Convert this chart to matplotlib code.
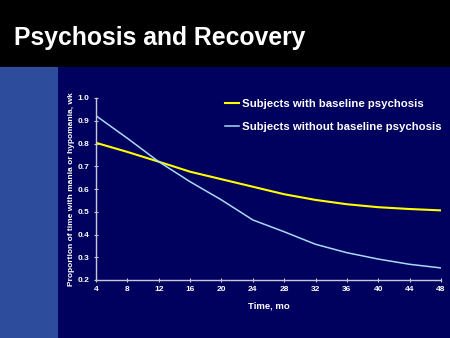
import matplotlib
matplotlib.use("Agg")
import matplotlib.pyplot as plt
from matplotlib.patches import Rectangle

months = [4, 8, 12, 16, 20, 24, 28, 32, 36, 40, 44, 48]
with_psychosis = [0.803, 0.763, 0.72, 0.676, 0.643, 0.61, 0.577, 0.552, 0.533, 0.52, 0.512, 0.506]
without_psychosis = [0.922, 0.823, 0.72, 0.632, 0.552, 0.464, 0.412, 0.357, 0.32, 0.292, 0.269, 0.253]
x_ticks = [4, 8, 12, 16, 20, 24, 28, 32, 36, 40, 44, 48]
y_ticks = [0.2, 0.3, 0.4, 0.5, 0.6, 0.7, 0.8, 0.9, 1.0]

plt.rcParams['font.family'] = ['Liberation Sans', 'DejaVu Sans']
NAVY = '#00005e'
fig = plt.figure(figsize=(4.5, 3.38), dpi=100, facecolor=NAVY)

# header and texture strip
fig.patches.append(Rectangle((0, 1 - 67/338), 1, 67/338, transform=fig.transFigure,
                             facecolor='black', edgecolor='none', zorder=0))
fig.patches.append(Rectangle((0, 0), 58/450, 1 - 67/338, transform=fig.transFigure,
                             facecolor='#2e4c9c', edgecolor='none', zorder=0))
fig.text(14/450, 1 - 38/338, 'Psychosis and Recovery', color='white', fontsize=17.8,
         fontweight='bold', va='center', ha='left')

ax = fig.add_axes([96/450, 1 - 280/338, (441 - 96)/450, (280 - 98)/338])
ax.set_facecolor(NAVY)
ax.plot(months, with_psychosis, color='#ffff00', lw=1.5, label='Subjects with baseline psychosis')
ax.plot(months, without_psychosis, color='#a8daf4', lw=1.1, label='Subjects without baseline psychosis')
ax.set_xlim(4, 48)
ax.set_ylim(0.2, 1.0)
ax.set_xticks(x_ticks)
ax.set_yticks(y_ticks)
ax.set_xticklabels([str(t) for t in x_ticks])
ax.set_yticklabels(['%.1f' % t for t in y_ticks])
for s in ['top', 'right']:
    ax.spines[s].set_visible(False)
for s in ['left', 'bottom']:
    ax.spines[s].set_color('#c8c8d8')
    ax.spines[s].set_linewidth(1.0)
ax.tick_params(colors='#c8c8d8', labelcolor='white', labelsize=6, length=3,
               direction='inout', width=0.8, pad=3)
for lab in ax.get_xticklabels() + ax.get_yticklabels():
    lab.set_fontweight('bold')
ax.set_xlabel('Time, mo', color='white', fontsize=6.8, fontweight='bold', labelpad=6)
ax.set_ylabel('Proportion of time with mania or hypomania, wk', color='white',
              fontsize=6, fontweight='bold', labelpad=2)
leg = ax.legend(loc='upper left', bbox_to_anchor=(0.345, 1.05), frameon=False,
                fontsize=8.2, handlelength=1.2, handletextpad=0.25, labelspacing=1.15)
for t in leg.get_texts():
    t.set_color('white')
    t.set_fontweight('bold')

fig.savefig('out.png', dpi=100, facecolor=fig.get_facecolor())
